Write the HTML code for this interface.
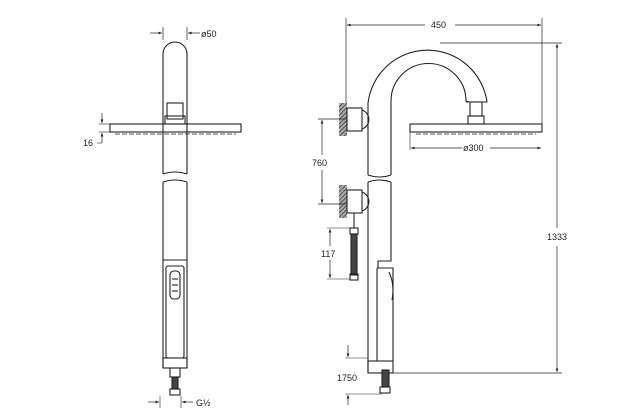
<!DOCTYPE html>
<html><head><style>
html,body{margin:0;padding:0;background:#fff;}
svg{display:block;}
text{font-family:"Liberation Sans",sans-serif;font-size:9px;fill:#222;}
</style></head><body>
<svg width="620" height="415" viewBox="0 0 620 415" xmlns="http://www.w3.org/2000/svg">
<defs>
<marker id="a" markerWidth="6" markerHeight="6" refX="5" refY="3" orient="auto"><path d="M0,1 L5,3 L0,5 Z" fill="#222"/></marker>
<pattern id="h" width="3" height="3" patternUnits="userSpaceOnUse" patternTransform="rotate(45)"><rect width="3" height="3" fill="#aaa"/><line x1="0" y1="0" x2="0" y2="3" stroke="#333" stroke-width="1.4"/></pattern>
</defs>
<g fill="none" stroke="#222" stroke-width="1.1">
<!-- LEFT VIEW -->
<path d="M163,174 L163,54 A12,12 0 0 1 187,54 L187,174"/>
<rect x="167" y="103" width="16" height="16"/>
<rect x="165" y="116" width="20" height="8"/>
<rect x="110" y="124" width="131" height="8"/>
<line x1="115" y1="134" x2="236" y2="134" stroke-dasharray="5,2" stroke-width="0.8"/>
<path d="M163,174 Q175,170 187,174"/>
<path d="M163,182 Q175,178 187,182"/>
<path d="M163,182 L163,368 M187,182 L187,368"/>
<line x1="163" y1="260" x2="187" y2="260"/>
<rect x="166" y="266" width="18" height="92" rx="2"/>
<rect x="170" y="271" width="10" height="28" rx="4"/>
<line x1="172" y1="279" x2="178" y2="279"/><line x1="172" y1="285" x2="178" y2="285"/><line x1="172" y1="291" x2="178" y2="291"/>
<rect x="163" y="358" width="24" height="10"/>
<rect x="170" y="368" width="10" height="9"/>
<rect x="172" y="377" width="6" height="12" fill="#444"/>
<rect x="170" y="389" width="10" height="6"/>
<!-- left dims -->
<line x1="163" y1="27" x2="163" y2="40" stroke-width="0.7"/><line x1="187" y1="27" x2="187" y2="40" stroke-width="0.7"/>
<line x1="150" y1="33" x2="162" y2="33" stroke-width="0.7" marker-end="url(#a)"/>
<line x1="200" y1="33" x2="188" y2="33" stroke-width="0.7" marker-end="url(#a)"/>
<line x1="102" y1="113" x2="102" y2="123" stroke-width="0.7" marker-end="url(#a)"/>
<line x1="102" y1="143" x2="102" y2="133" stroke-width="0.7" marker-end="url(#a)"/>
<line x1="99" y1="124" x2="110" y2="124" stroke-width="0.6"/><line x1="99" y1="132" x2="110" y2="132" stroke-width="0.6"/>
<line x1="97" y1="143" x2="102" y2="143" stroke-width="0.6"/>
<line x1="160" y1="396" x2="160" y2="408" stroke-width="0.6"/><line x1="181" y1="396" x2="181" y2="408" stroke-width="0.6"/>
<line x1="148" y1="402" x2="159" y2="402" stroke-width="0.7" marker-end="url(#a)"/>
<line x1="193" y1="402" x2="182" y2="402" stroke-width="0.7" marker-end="url(#a)"/>

<!-- RIGHT VIEW -->
<path d="M368,175 L368,103 A60,60 0 0 1 487,102 L482,102"/>
<path d="M391,175 L391,101 A37,37 0 0 1 466,101 L469,102"/>
<line x1="466" y1="102" x2="487" y2="102"/>
<rect x="470" y="102" width="12" height="14"/>
<rect x="468" y="116" width="16" height="8"/>
<rect x="410" y="124" width="132" height="8"/>
<line x1="416" y1="134" x2="536" y2="134" stroke-dasharray="5,2" stroke-width="0.8"/>
<path d="M368,175 Q380,179 391,175"/>
<path d="M368,182 Q380,178 391,182"/>
<path d="M368,182 L368,373 M391,182 L391,261 L378,261 L378,268"/>
<path d="M377,268 L377,361 M377,268 L393,268 L393,361 M377,361 L393,361"/>
<path d="M389,272 Q395,285 392,300" />
<rect x="368" y="361" width="25" height="12"/>
<rect x="382" y="370" width="7" height="17" fill="#444"/>
<rect x="380" y="387" width="10" height="6"/>
<!-- valves -->
<rect x="339" y="103" width="8" height="33" fill="url(#h)" stroke="none"/>
<rect x="347" y="108" width="15" height="23"/>
<path d="M362,110 A10,10 0 0 1 362,129"/>
<rect x="339" y="185" width="8" height="33" fill="url(#h)" stroke="none"/>
<rect x="347" y="190" width="15" height="23"/>
<path d="M362,192 A10,10 0 0 1 362,211"/>
<rect x="350" y="228" width="8" height="6"/>
<rect x="351" y="234" width="6" height="41" fill="#444"/>
<rect x="350" y="274" width="8" height="6"/>
<line x1="354" y1="213" x2="354" y2="228"/>
<!-- right dims -->
<line x1="346" y1="18" x2="346" y2="103" stroke-width="0.7"/>
<line x1="542" y1="18" x2="542" y2="124" stroke-width="0.7"/>
<line x1="425" y1="25" x2="347" y2="25" stroke-width="0.7" marker-end="url(#a)"/>
<line x1="455" y1="25" x2="541" y2="25" stroke-width="0.7" marker-end="url(#a)"/>
<line x1="440" y1="43" x2="562" y2="43" stroke-width="0.7"/>
<line x1="393" y1="373" x2="562" y2="373" stroke-width="0.7"/>
<line x1="557" y1="228" x2="557" y2="44" stroke-width="0.7" marker-end="url(#a)"/>
<line x1="557" y1="246" x2="557" y2="372" stroke-width="0.7" marker-end="url(#a)"/>
<line x1="410" y1="132" x2="410" y2="150" stroke-width="0.6"/>
<line x1="462" y1="148" x2="411" y2="148" stroke-width="0.7" marker-end="url(#a)"/>
<line x1="490" y1="148" x2="541" y2="148" stroke-width="0.7" marker-end="url(#a)"/>
<line x1="318" y1="119" x2="347" y2="119" stroke-width="0.7"/>
<line x1="318" y1="204" x2="347" y2="204" stroke-width="0.7"/>
<line x1="322" y1="155" x2="322" y2="120" stroke-width="0.7" marker-end="url(#a)"/>
<line x1="322" y1="170" x2="322" y2="203" stroke-width="0.7" marker-end="url(#a)"/>
<line x1="327" y1="228" x2="350" y2="228" stroke-width="0.6"/>
<line x1="327" y1="279" x2="350" y2="279" stroke-width="0.6"/>
<line x1="330" y1="246" x2="330" y2="229" stroke-width="0.7" marker-end="url(#a)"/>
<line x1="330" y1="260" x2="330" y2="278" stroke-width="0.7" marker-end="url(#a)"/>
<line x1="348" y1="345" x2="348" y2="357" stroke-width="0.7" marker-end="url(#a)"/>
<line x1="348" y1="405" x2="348" y2="395" stroke-width="0.7" marker-end="url(#a)"/>
<line x1="345" y1="358" x2="368" y2="358" stroke-width="0.6"/>
<line x1="345" y1="394" x2="382" y2="394" stroke-width="0.6"/>
</g>
<text x="201" y="37">ø50</text>
<text x="83" y="146">16</text>
<text x="196" y="406">G½</text>
<text x="431" y="28">450</text>
<text x="547" y="240">1333</text>
<text x="463" y="151">ø300</text>
<text x="312" y="166">760</text>
<text x="321" y="257">117</text>
<text x="337" y="381">1750</text>
</svg>
</body></html>
